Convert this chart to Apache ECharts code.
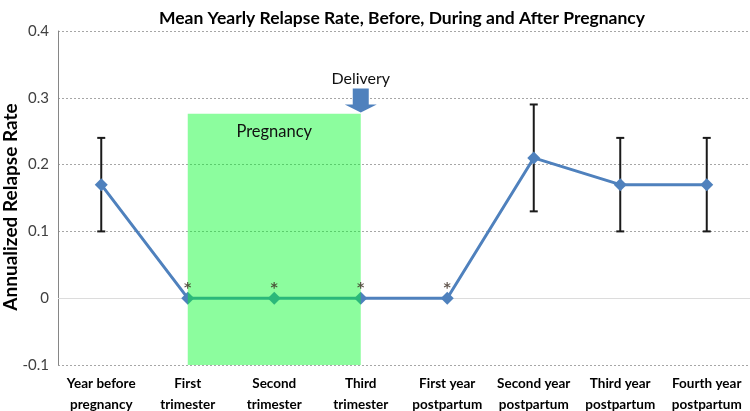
<!DOCTYPE html>
<html>
<head>
<meta charset="utf-8">
<script src="https://cdn.jsdelivr.net/npm/echarts@6/dist/echarts.min.js"></script>
<style>html,body{margin:0;padding:0;background:#fff}#c{width:750px;height:411px}</style>
</head>
<body>
<div id="c"></div>
<script>
const categories = ['Year before\npregnancy', 'First\ntrimester', 'Second\ntrimester', 'Third\ntrimester', 'First year\npostpartum', 'Second year\npostpartum', 'Third year\npostpartum', 'Fourth year\npostpartum'];
const rate = [0.17, 0, 0, 0, 0, 0.21, 0.17, 0.17];
const errLow = [0.10, null, null, null, null, 0.13, 0.10, 0.10];
const errHigh = [0.24, null, null, null, null, 0.29, 0.24, 0.24];
const significant = [false, true, true, true, true, false, false, false];
const yTicks = { min: -0.1, max: 0.4, interval: 0.1 };
const pregnancy = { from: 'First\ntrimester', to: 'Third\ntrimester', low: -0.103, high: 0.276, label: 'Pregnancy' };
const delivery = { at: 'Third\ntrimester', value: 0.296, label: 'Delivery' };

const FONT = 'Lato';
const chart = echarts.init(document.getElementById('c'), null, { renderer: 'canvas' });

const errData = [];
categories.forEach((c, i) => { if (errLow[i] != null) errData.push([i, errLow[i], errHigh[i]]); });
const starData = [];
categories.forEach((c, i) => { if (significant[i]) starData.push([i, rate[i]]); });

chart.setOption({
  animation: false,
  title: {
    text: 'Mean Yearly Relapse Rate, Before, During and After Pregnancy',
    left: 397, textAlign: 'center', top: 4,
    textStyle: { fontFamily: FONT, fontWeight: 'bold', fontSize: 17.5, color: '#000' }
  },
  grid: { left: 58, right: 0, top: 31, bottom: 46, containLabel: false, outerBoundsMode: 'none' },
  xAxis: {
    type: 'category', data: categories, boundaryGap: true,
    axisLine: { show: false }, axisTick: { show: false },
    axisLabel: { interval: 0, fontFamily: FONT, fontWeight: 'bold', fontSize: 13.5, color: '#000', lineHeight: 21, margin: 8 },
    splitLine: { show: false }
  },
  yAxis: {
    type: 'value', min: yTicks.min, max: yTicks.max, interval: yTicks.interval,
    name: 'Annualized Relapse Rate', nameLocation: 'middle', nameRotate: 90, nameGap: 38,
    nameMoveOverlap: false,
    nameTextStyle: { fontFamily: FONT, fontWeight: 'bold', fontSize: 19, color: '#000', padding: [0, 18, 0, 0] },
    axisLine: { show: true, lineStyle: { color: '#868686', width: 1 } },
    axisTick: { show: false },
    axisLabel: { fontFamily: FONT, fontSize: 15, color: '#404040', margin: 9,
      formatter: v => (Math.round(v * 10) / 10).toString() },
    splitLine: { show: true, lineStyle: { color: '#a6a6a6', type: [2, 2], width: 1 } }
  },
  series: [
    {
      type: 'custom', name: 'err', z: 1, silent: true,
      renderItem: (params, api) => {
        const lo = api.coord([api.value(0), api.value(1)]);
        const hi = api.coord([api.value(0), api.value(2)]);
        const cap = 4;
        const st = { stroke: '#1a1a1a', lineWidth: 2 };
        return { type: 'group', children: [
          { type: 'line', shape: { x1: lo[0], y1: lo[1], x2: hi[0], y2: hi[1] }, style: st },
          { type: 'line', shape: { x1: lo[0] - cap, y1: lo[1], x2: lo[0] + cap, y2: lo[1] }, style: st },
          { type: 'line', shape: { x1: hi[0] - cap, y1: hi[1], x2: hi[0] + cap, y2: hi[1] }, style: st }
        ]};
      },
      data: errData
    },
    {
      type: 'line', name: 'rate', z: 2, data: rate,
      symbol: 'diamond', symbolSize: 13, showAllSymbol: true,
      lineStyle: { color: '#4f81bd', width: 3 },
      itemStyle: { color: '#4f81bd' },
      markLine: { silent: true, symbol: 'none', label: { show: false }, z: 1,
        lineStyle: { color: '#dcdcdc', type: 'solid', width: 1 },
        data: [{ yAxis: 0 }] }
    },
    {
      type: 'line', name: 'overlay', z: 5, data: categories.map(() => null), silent: true,
      markArea: {
        silent: true, z: 10,
        itemStyle: { color: 'rgba(0,250,40,0.45)' },
        label: { show: true, position: 'insideTop', distance: 9, fontFamily: FONT, fontSize: 16.5, color: '#111' },
        data: [[{ name: pregnancy.label, coord: [pregnancy.from, pregnancy.high] }, { coord: [pregnancy.to, pregnancy.low] }]]
      },
      markPoint: {
        silent: true, z: 11,
        symbol: 'path://M8,0 L24,0 L24,16 L32,16 L16,24 L0,16 L8,16 Z',
        symbolSize: [32, 24],
        itemStyle: { color: '#4f81bd' },
        label: { show: true, position: 'top', distance: 2, fontFamily: FONT, fontSize: 16, color: '#111', formatter: delivery.label },
        data: [{ coord: [delivery.at, delivery.value] }]
      }
    },
    {
      type: 'scatter', name: 'stars', z: 12, silent: true, symbolSize: 0,
      data: starData,
      label: { show: true, position: 'top', distance: 3, formatter: '*', fontFamily: 'DejaVu Sans', fontWeight: 'bold', fontSize: 14, color: '#3a2a20' }
    }
  ]
});
</script>
</body>
</html>
